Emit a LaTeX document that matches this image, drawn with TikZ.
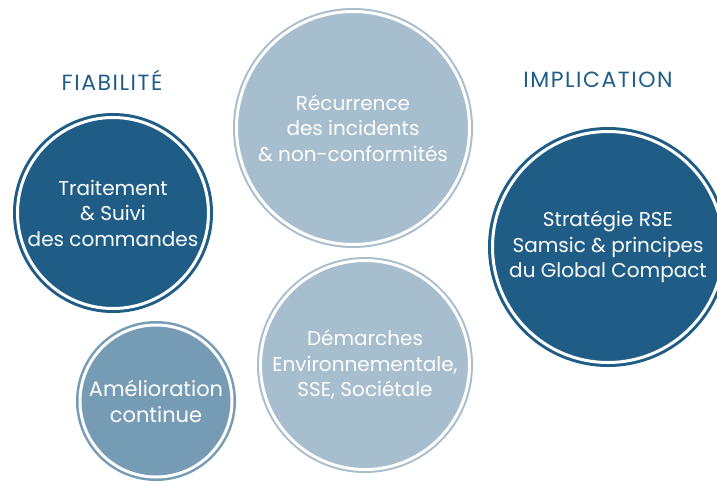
\documentclass[tikz,border=0pt]{standalone}
\usepackage{fontspec}
\setmainfont{Poppins}
\definecolor{darkblue}{HTML}{1F5D87}
\definecolor{paleblue}{HTML}{A6BECD}
\definecolor{midblue}{HTML}{759BB5}
\tikzset{
    bubble/.style={circle, fill=#1, draw=#1, double=white, double distance=3pt,
        inner sep=0pt, text=white, align=center, font=\fontsize{20}{25.5}\selectfont},
    heading/.style={text=darkblue, font=\fontsize{22}{26}\selectfont\addfontfeature{LetterSpace=7}}
}
\begin{document}
\begin{tikzpicture}[x=1pt, y=-1pt]
        \useasboundingbox (0,0) rectangle (717,482);

        \coordinate (s) at (113,213);
        \coordinate (r) at (353,128);
        \coordinate (c) at (608,247);
        \coordinate (a) at (156,401);
        \coordinate (d) at (365,365);

        \node (fiab) at (112,80)[heading]{FIABILITÉ};
        \node (impl) at (598,80)[heading]{IMPLICATION};

        \node (suivi) at (s)[bubble=darkblue, line width=3pt, minimum size=191pt]{Traitement\\\& Suivi\\des commandes};
        \node (recurrence) at (r)[bubble=paleblue, line width=2pt, minimum size=233pt]{Récurrence\\des incidents\\\& non-conformités};
        \node (rse) at (c)[bubble=darkblue, line width=3pt, minimum size=231pt]{Stratégie RSE\\Samsic \& principes\\du Global Compact};
        \node (amelioration) at (a)[bubble=midblue, line width=2.5pt, minimum size=152pt, font=\fontsize{21}{26}\selectfont]{Amélioration\\continue};
        \node (demarches) at (d)[bubble=paleblue, line width=2pt, minimum size=209pt]{Démarches\\Environnementale,\\SSE, Sociétale};
    \end{tikzpicture}
\end{document}
